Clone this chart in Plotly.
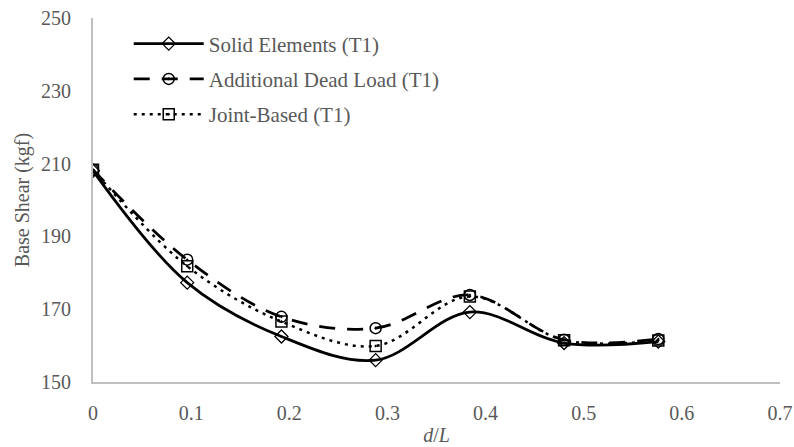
import plotly.graph_objects as go

# d/L ratios and base shear (kgf) for the three modelling approaches
d_over_L = [0, 0.096, 0.192, 0.288, 0.384, 0.48, 0.576]
solid_elements = [208.0, 177.3, 162.5, 156.0, 169.2, 160.7, 161.1]
additional_dead_load = [208.3, 183.6, 167.9, 164.8, 173.9, 161.6, 161.8]
joint_based = [208.3, 181.8, 166.6, 159.9, 173.5, 161.5, 161.4]

series_names = ["Solid Elements (T1)", "Additional Dead Load (T1)", "Joint-Based (T1)"]

text_color = "#595959"
axis_color = "#bfbfbf"
font_family = "Liberation Serif, Times New Roman, serif"

fig = go.Figure()

fig.add_trace(go.Scatter(
    x=d_over_L, y=solid_elements, name=series_names[0], legendgroup="a",
    mode="lines+markers", line=dict(color="black", width=2.75, shape="spline", dash="solid"),
    marker=dict(symbol="diamond-open", size=10, color="black", line=dict(width=1.3)),
))
fig.add_trace(go.Scatter(
    x=d_over_L, y=additional_dead_load, name=series_names[1], legendgroup="b",
    mode="lines+markers", line=dict(color="black", width=2.75, shape="spline", dash="16px,12px"),
    marker=dict(symbol="circle-open-dot", size=11, color="black", line=dict(width=1.5)),
))
fig.add_trace(go.Scatter(
    x=d_over_L, y=joint_based, name=series_names[2], legendgroup="c",
    mode="lines+markers", line=dict(color="black", width=2.5, shape="spline", dash="3px,5px"),
    marker=dict(symbol="square-open-dot", size=11, color="black", line=dict(width=1.5)),
))

fig.update_layout(
    width=794, height=447,
    margin=dict(l=93, r=14, t=18, b=65, autoexpand=False),
    paper_bgcolor="white", plot_bgcolor="white",
    font=dict(family=font_family, size=20, color=text_color),
    showlegend=True,
    legend=dict(
        x=0.052, y=0.985, xanchor="left", yanchor="top",
        bgcolor="rgba(0,0,0,0)", font=dict(size=21, color=text_color),
        itemwidth=70, tracegroupgap=5,
    ),
)

fig.update_xaxes(
    range=[0, 0.7], dtick=0.1, tick0=0, tickformat="~g",
    showgrid=False, zeroline=False, automargin=False,
    showline=True, linecolor=axis_color, linewidth=2,
    ticks="", ticklabelstandoff=12,
    tickfont=dict(size=20, color=text_color),
    title=dict(text="<i>d</i>/<i>L</i>", font=dict(size=20, color=text_color), standoff=5),
)
fig.update_yaxes(
    range=[150, 250], dtick=20, tick0=150,
    showgrid=False, zeroline=False, automargin=False,
    showline=True, linecolor=axis_color, linewidth=2,
    ticks="", ticklabelstandoff=16,
    tickfont=dict(size=20, color=text_color),
    title=dict(text="Base Shear (kgf)", font=dict(size=20, color=text_color), standoff=6),
)

fig.write_html("out.html")
